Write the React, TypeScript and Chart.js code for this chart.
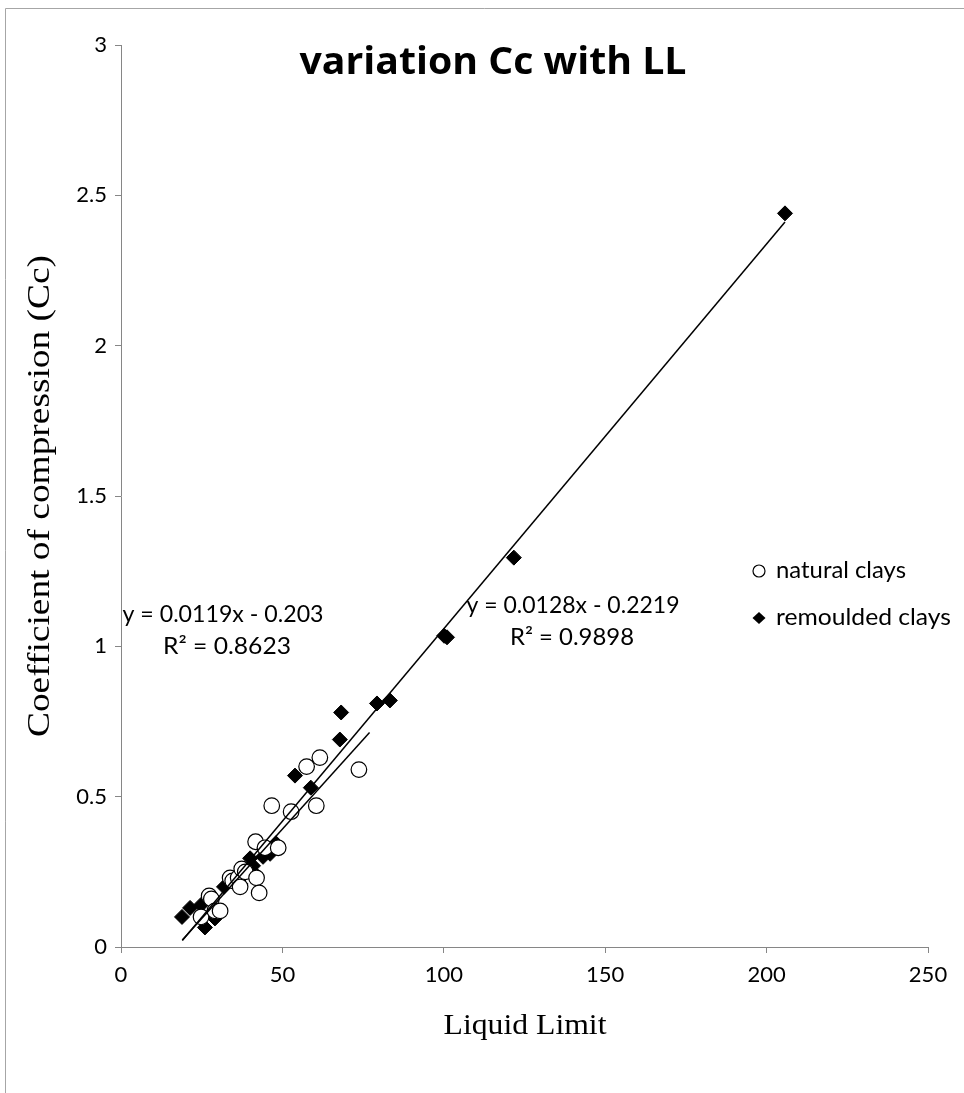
import React, { useEffect, useRef } from "react";
import { Chart, registerables } from "chart.js";

Chart.register(...registerables);

const naturalX = [24.8, 27.3, 28.0, 29.1, 30.7, 33.8, 34.6, 36.3, 36.9, 37.4, 38.5, 41.7, 42.0, 42.8, 44.6, 46.7, 48.7, 52.7, 57.5, 60.5, 61.6, 73.7];
const naturalY = [0.10, 0.17, 0.16, 0.12, 0.12, 0.23, 0.22, 0.23, 0.20, 0.26, 0.25, 0.35, 0.23, 0.18, 0.33, 0.47, 0.33, 0.45, 0.60, 0.47, 0.63, 0.59];

const remouldedX = [18.9, 21.4, 24.8, 26.0, 27.6, 29.1, 31.9, 35.9, 37.0, 40.0, 40.9, 41.8, 44.0, 46.2, 48.0, 53.9, 58.8, 67.8, 68.2, 79.3, 83.3, 100.1, 101.0, 121.7, 205.7];
const remouldedY = [0.10, 0.13, 0.14, 0.065, 0.16, 0.095, 0.20, 0.215, 0.21, 0.295, 0.27, 0.24, 0.30, 0.31, 0.345, 0.57, 0.53, 0.69, 0.78, 0.81, 0.82, 1.035, 1.03, 1.295, 2.44];

const naturalFit = { slope: 0.0119, intercept: -0.203, r2: "0.8623", xFrom: 19, xTo: 77 };
const remouldedFit = { slope: 0.0128, intercept: -0.2219, r2: "0.9898", xFrom: 19, xTo: 205.7 };

const xTicks = [0, 50, 100, 150, 200, 250];
const yTicks = [0, 0.5, 1, 1.5, 2, 2.5, 3];

const chartTitle = "variation Cc with LL";
const xTitle = "Liquid Limit";
const yTitle = "Coefficient of compression (Cc)";
const seriesNames = ["natural clays", "remoulded clays"];

const SANS = "Lato, 'Open Sans', sans-serif";
const TITLE_SANS = "'Open Sans', 'Noto Sans', sans-serif";
const SERIF = "'Liberation Serif', 'DejaVu Serif', serif";

function fitLine(f: { slope: number; intercept: number; xFrom: number; xTo: number }) {
  return [
    { x: f.xFrom, y: f.slope * f.xFrom + f.intercept },
    { x: f.xTo, y: f.slope * f.xTo + f.intercept },
  ];
}

// draw text stretched along its direction to a target width
function drawFit(
  ctx: CanvasRenderingContext2D,
  text: string,
  x: number,
  y: number,
  font: string,
  width: number,
  align: "center" | "left" = "center",
  rotate = 0
) {
  ctx.save();
  ctx.font = font;
  ctx.textBaseline = "middle";
  ctx.textAlign = align;
  const w = ctx.measureText(text).width;
  const k = width / w;
  ctx.translate(x, y);
  if (rotate) ctx.rotate(rotate);
  ctx.scale(k, 1);
  ctx.fillText(text, 0, 0);
  ctx.restore();
}

export default function App() {
  const ref = useRef<HTMLCanvasElement | null>(null);

  useEffect(() => {
    document.body.style.margin = "0";
    const canvas = ref.current;
    if (!canvas) return;

    const overlay = {
      id: "overlay",
      afterDraw(chart: any) {
        const ctx = chart.ctx as CanvasRenderingContext2D;
        ctx.save();
        // outer frame
        ctx.strokeStyle = "#a6a6a6";
        ctx.lineWidth = 1;
        ctx.beginPath();
        ctx.moveTo(5.5, 1093);
        ctx.lineTo(5.5, 8.5);
        ctx.lineTo(964, 8.5);
        ctx.stroke();

        ctx.fillStyle = "#000";
        drawFit(ctx, chartTitle, 493, 63, `bold 38px ${TITLE_SANS}`, 387);
        drawFit(ctx, xTitle, 525, 1026, `30px ${SERIF}`, 163);
        drawFit(ctx, yTitle, 41, 496, `31px ${SERIF}`, 482, "center", -Math.PI / 2);

        drawFit(ctx, `y = ${naturalFit.slope}x - ${Math.abs(naturalFit.intercept)}`, 223, 615, `23px ${SANS}`, 201);
        drawFit(ctx, `R² = ${naturalFit.r2}`, 227, 647, `23px ${SANS}`, 128);
        drawFit(ctx, `y = ${remouldedFit.slope}x - ${Math.abs(remouldedFit.intercept)}`, 573, 606, `23px ${SANS}`, 213);
        drawFit(ctx, `R² = ${remouldedFit.r2}`, 572, 638, `23px ${SANS}`, 124);

        // legend
        drawFit(ctx, seriesNames[0], 776, 571, `23px ${SANS}`, 130, "left");
        drawFit(ctx, seriesNames[1], 776, 618, `23px ${SANS}`, 175, "left");
        ctx.lineWidth = 1.2;
        ctx.strokeStyle = "#000";
        ctx.fillStyle = "#fff";
        ctx.beginPath();
        ctx.arc(759, 571, 6, 0, Math.PI * 2);
        ctx.fill();
        ctx.stroke();
        ctx.fillStyle = "#000";
        ctx.beginPath();
        ctx.moveTo(759, 612);
        ctx.lineTo(765.5, 618);
        ctx.lineTo(759, 624);
        ctx.lineTo(752.5, 618);
        ctx.closePath();
        ctx.fill();
        ctx.restore();
      },
    };

    const chart = new Chart(canvas, {
      type: "scatter",
      data: {
        datasets: [
          {
            label: "natural fit",
            type: "line",
            data: fitLine(naturalFit),
            borderColor: "#000",
            borderWidth: 1.5,
            pointRadius: 0,
            fill: false,
            order: 0,
          },
          {
            label: "remoulded fit",
            type: "line",
            data: fitLine(remouldedFit),
            borderColor: "#000",
            borderWidth: 1.5,
            pointRadius: 0,
            fill: false,
            order: 0,
          },
          {
            label: seriesNames[0],
            data: naturalX.map((x, i) => ({ x, y: naturalY[i] })),
            pointStyle: "circle",
            pointRadius: 7.8,
            backgroundColor: "#fff",
            borderColor: "#000",
            borderWidth: 1.2,
            order: 1,
          },
          {
            label: seriesNames[1],
            data: remouldedX.map((x, i) => ({ x, y: remouldedY[i] })),
            pointStyle: "rectRot",
            pointRadius: 7.5,
            backgroundColor: "#000",
            borderColor: "#000",
            borderWidth: 1,
            order: 2,
          },
        ],
      },
      options: {
        animation: false,
        responsive: false,
        maintainAspectRatio: false,
        layout: { padding: { left: 0, top: 45, right: 36, bottom: 0 } },
        plugins: {
          legend: { display: false },
          tooltip: { enabled: false },
          title: { display: false },
        },
        scales: {
          x: {
            type: "linear",
            min: 0,
            max: 250,
            afterFit: (s: any) => { s.height = 146; },
            afterBuildTicks: (s: any) => { s.ticks = xTicks.map((v) => ({ value: v })); },
            grid: { drawOnChartArea: false, drawTicks: true, tickLength: 6, color: "#868686" },
            border: { color: "#868686", width: 1 },
            ticks: { color: "#000", font: { family: SANS, size: 22 }, padding: 9, callback: (v: any) => String(v) },
          },
          y: {
            type: "linear",
            min: 0,
            max: 3,
            afterFit: (s: any) => { s.width = 121; },
            afterBuildTicks: (s: any) => { s.ticks = yTicks.map((v) => ({ value: v })); },
            grid: { drawOnChartArea: false, drawTicks: true, tickLength: 6, color: "#868686" },
            border: { color: "#868686", width: 1 },
            ticks: { color: "#000", font: { family: SANS, size: 22 }, padding: 8, callback: (v: any) => String(v) },
          },
        },
      },
      plugins: [overlay],
    } as any);

    return () => chart.destroy();
  }, []);

  return <canvas ref={ref} width={964} height={1093} style={{ display: "block" }} />;
}
